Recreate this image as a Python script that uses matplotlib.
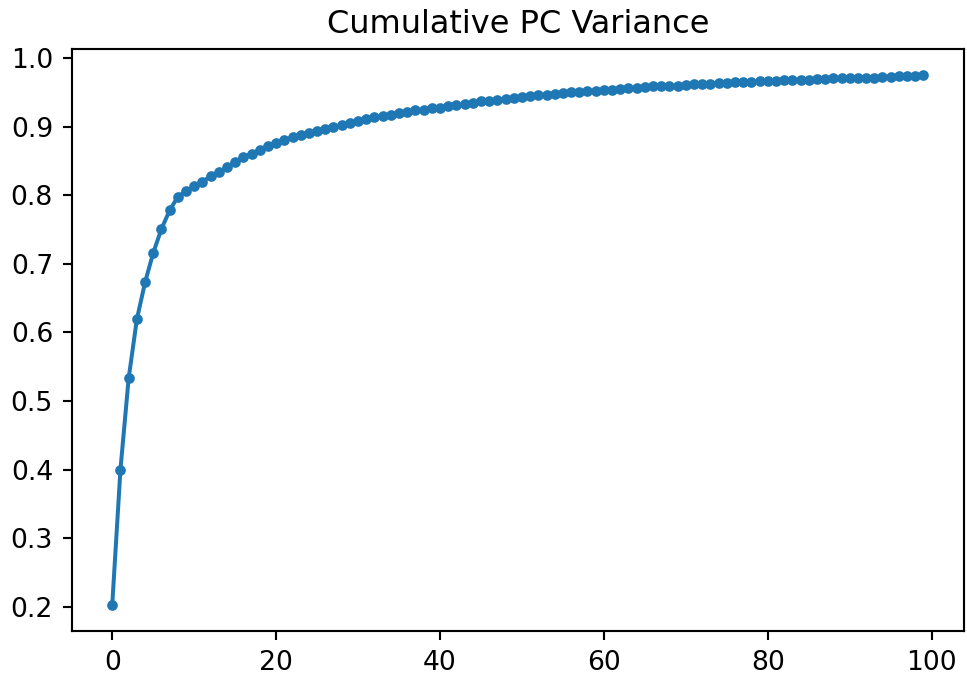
import matplotlib
matplotlib.use('Agg')
import matplotlib.pyplot as plt
import numpy as np

# kumulativ forklart varians for de 100 foerste komponentene (avlest)
cum_var = [
    0.203, 0.400, 0.533, 0.619, 0.673, 0.716, 0.751, 0.778, 0.798, 0.806,
    0.813, 0.820, 0.828, 0.834, 0.841, 0.848, 0.856, 0.861, 0.866, 0.872,
    0.877, 0.881, 0.885, 0.888, 0.891, 0.894, 0.897, 0.900, 0.903, 0.906,
    0.909, 0.911, 0.914, 0.916, 0.918, 0.920, 0.922, 0.924, 0.925, 0.927,
    0.928, 0.930, 0.932, 0.934, 0.935, 0.937, 0.938, 0.939, 0.941, 0.942,
    0.943, 0.945, 0.946, 0.947, 0.948, 0.949, 0.951, 0.951, 0.952, 0.953,
    0.954, 0.954, 0.955, 0.956, 0.957, 0.958, 0.959, 0.959, 0.960, 0.960,
    0.961, 0.962, 0.963, 0.963, 0.964, 0.964, 0.965, 0.965, 0.966, 0.967,
    0.967, 0.967, 0.968, 0.968, 0.968, 0.969, 0.970, 0.970, 0.971, 0.971,
    0.971, 0.972, 0.972, 0.972, 0.973, 0.973, 0.974, 0.974, 0.974, 0.975,
]
n_comp = np.arange(len(cum_var))

dpi = 192
fig = plt.figure(figsize=(967/dpi, 686/dpi), dpi=dpi)
ax = fig.add_axes([71.7/967, 1 - 631/686, (964 - 71.7)/967, (631 - 49)/686])
ax.plot(n_comp, cum_var, marker='.')
ax.set_title('Cumulative PC Variance')

fig.savefig('out.png', dpi=dpi)
